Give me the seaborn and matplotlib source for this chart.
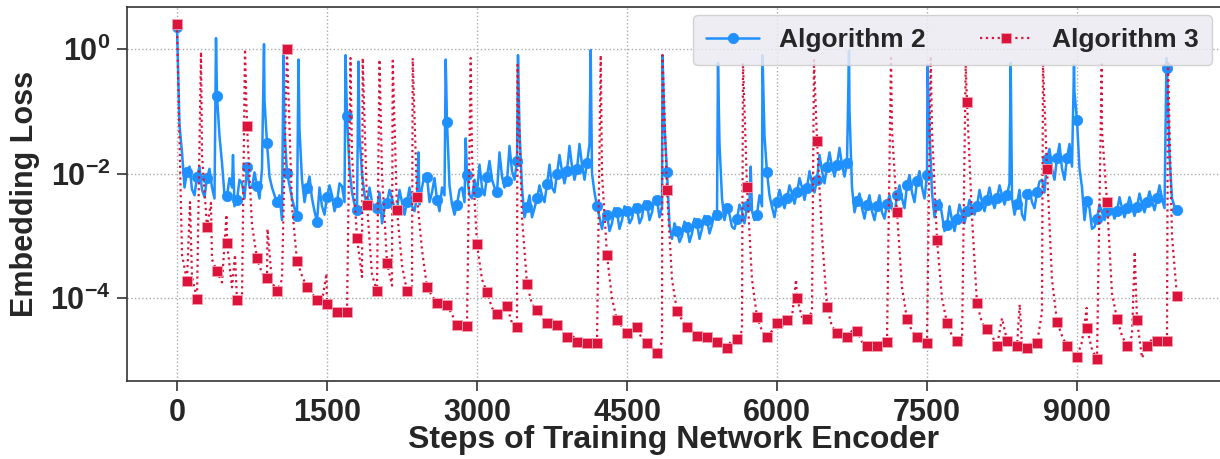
import numpy as np
import pandas as pd
import matplotlib
matplotlib.use("Agg")
import matplotlib.pyplot as plt
from matplotlib.ticker import NullLocator
import seaborn as sns

# training steps with a reading every 50 steps, plus the in-between readings
steps = np.arange(0, 10001, 50)
mid_steps = np.arange(25, 10000, 50)

# Algorithm 2 loss, steps 0..10000 every 50
alg2_loss = [
    2.3, 0.022, 0.0107, 0.0056, 0.009, 0.0055, 0.0085, 0.006, 0.18, 0.015,
    0.0044, 0.006, 0.0038, 0.007, 0.0126, 0.006, 0.0063, 0.012, 0.031, 0.006,
    0.0035, 0.0018, 0.0102, 0.004, 0.0021, 0.008, 0.0059, 0.004, 0.0017, 0.003,
    0.0043, 0.0045, 0.0035, 0.0063, 0.083, 0.005, 0.0026, 0.01, 0.0033, 0.0035,
    0.0028, 0.0016, 0.0034, 0.004, 0.0026, 0.0035, 0.0035, 0.003, 0.0043, 0.006,
    0.009, 0.005, 0.0038, 0.006, 0.068, 0.0032, 0.0032, 0.006, 0.0095, 0.004,
    0.005, 0.006, 0.009, 0.008, 0.005, 0.009, 0.0075, 0.011, 0.016, 0.006,
    0.0029, 0.002, 0.004, 0.0045, 0.0068, 0.006, 0.01, 0.011, 0.011, 0.013,
    0.012, 0.014, 0.015, 0.01, 0.003, 0.0013, 0.0022, 0.0016, 0.0024, 0.0018,
    0.0025, 0.0019, 0.0028, 0.002, 0.0032, 0.0024, 0.0038, 0.003, 0.0107, 0.0009,
    0.0012, 0.001, 0.0014, 0.0011, 0.0016, 0.0013, 0.0018, 0.0015, 0.0022, 0.004,
    0.0028, 0.0014, 0.0019, 0.0025, 0.003, 0.0025, 0.0022, 0.003, 0.0105, 0.0029,
    0.0035, 0.0038, 0.004, 0.0048, 0.005, 0.006, 0.006, 0.007, 0.008, 0.011,
    0.013, 0.013, 0.014, 0.014, 0.015, 0.006, 0.0036, 0.0028, 0.0032, 0.0025,
    0.003, 0.0024, 0.0033, 0.0028, 0.0045, 0.004, 0.0065, 0.005, 0.0075, 0.006,
    0.0095, 0.005, 0.0032, 0.0022, 0.0015, 0.0018, 0.0019, 0.0022, 0.0025, 0.0028,
    0.003, 0.0035, 0.0038, 0.0038, 0.004, 0.0045, 0.0045, 0.004, 0.0033, 0.0022,
    0.0047, 0.0035, 0.005, 0.008, 0.017, 0.012, 0.018, 0.012, 0.018, 0.013,
    0.072, 0.006, 0.0037, 0.0013, 0.0019, 0.0024, 0.0025, 0.0026, 0.0025, 0.0028,
    0.0028, 0.003, 0.0029, 0.0033, 0.0035, 0.0036, 0.004, 0.004, 0.5, 0.004,
    0.0026,
]
# Algorithm 2 loss at steps 25, 75, ..., 9975 (other edge of the noisy band)
alg2_mid_loss = [
    0.06, 0.006, 0.013, 0.0045, 0.013, 0.0042, 0.012, 0.004, 0.04, 0.0045,
    0.0085, 0.003, 0.008, 0.004, 0.006, 0.0105, 0.004, 0.15, 0.009, 0.0045,
    0.0045, 0.05, 0.0065, 0.0028, 0.05, 0.0035, 0.009, 0.0025, 0.006, 0.0022,
    0.0065, 0.0025, 0.007, 0.0035, 0.012, 0.0032, 0.04, 0.0045, 0.006, 0.0025,
    0.005, 0.0028, 0.0055, 0.0028, 0.0055, 0.0022, 0.006, 0.0025, 0.0032, 0.0095,
    0.0035, 0.0085, 0.0025, 0.0045, 0.0065, 0.0022, 0.0055, 0.0035, 0.0045, 0.008,
    0.014, 0.0045, 0.016, 0.006, 0.022, 0.006, 0.028, 0.008, 0.05, 0.002,
    0.0045, 0.0028, 0.0065, 0.0035, 0.014, 0.005, 0.02, 0.007, 0.028, 0.008,
    0.03, 0.008, 0.03, 0.005, 0.002, 0.0024, 0.0012, 0.0028, 0.0013, 0.003,
    0.0016, 0.0032, 0.0016, 0.0036, 0.0018, 0.0042, 0.002, 0.06, 0.0015, 0.0016,
    0.0008, 0.0017, 0.0008, 0.0019, 0.0009, 0.0021, 0.0011, 0.0025, 0.03, 0.0018,
    0.0022, 0.0013, 0.0032, 0.0016, 0.0038, 0.0018, 0.0045, 0.04, 0.0045, 0.002,
    0.0055, 0.0028, 0.0065, 0.0033, 0.0085, 0.0038, 0.011, 0.005, 0.02, 0.007,
    0.022, 0.009, 0.026, 0.009, 0.1, 0.0024, 0.0048, 0.0019, 0.0045, 0.0018,
    0.0045, 0.0019, 0.0045, 0.0022, 0.0065, 0.0028, 0.0095, 0.0035, 0.011, 0.004,
    0.05, 0.002, 0.0038, 0.0012, 0.003, 0.0012, 0.0032, 0.0016, 0.0038, 0.0022,
    0.0055, 0.0025, 0.006, 0.0028, 0.0065, 0.0032, 0.007, 0.0022, 0.0055, 0.0018,
    0.0055, 0.0028, 0.0075, 0.005, 0.025, 0.008, 0.03, 0.008, 0.03, 0.2,
    0.012, 0.0018, 0.0028, 0.0014, 0.0032, 0.0018, 0.0038, 0.0019, 0.0042, 0.002,
    0.0042, 0.0021, 0.0048, 0.0024, 0.0052, 0.0026, 0.0065, 0.0028, 0.02, 0.003,
]
# short spikes between the readings
alg2_spike_steps = [390, 560, 870, 1065, 1215, 1685, 1815, 2415, 2687, 2887, 3410,
                    4137, 4855, 5410, 5737, 5855, 6720, 7505, 8337, 8970, 9895]
alg2_spike_loss = [1.5, 0.02, 1.2, 1.0, 0.68, 0.8, 0.63, 0.022, 0.68, 0.037, 0.8,
                   0.97, 0.8, 0.6, 0.013, 0.8, 0.94, 0.56, 0.6, 0.56, 0.72]

# Algorithm 3 loss, steps 0..10000 every 50
alg3_loss = [
    2.5, 5e-4, 1.9e-4, 2.2e-4, 9.8e-5, 0.02, 1.4e-3, 4.2e-4, 2.7e-4, 1.8e-4,
    7.8e-4, 1.5e-4, 9.3e-5, 1e-4, 0.059, 1.5e-3, 4.4e-4, 2.5e-4, 2.1e-4, 1.8e-4,
    1.3e-4, 2e-4, 1.0, 3e-3, 4e-4, 2.3e-4, 1.5e-4, 1.2e-4, 9.3e-5, 9e-5,
    8e-5, 7e-5, 6e-5, 6e-5, 6e-5, 0.02, 9.3e-4, 2.2e-4, 3.2e-3, 2.4e-4,
    1.3e-4, 0.01, 3.7e-4, 1.6e-4, 2.6e-3, 3.4e-4, 1.3e-4, 1.3e-4, 4.2e-3, 6e-4,
    1.5e-4, 1.1e-4, 8.3e-5, 8.5e-5, 7.8e-5, 5.5e-5, 3.7e-5, 4e-5, 3.6e-5, 0.02,
    7.4e-4, 2e-4, 1.26e-4, 7e-5, 5.6e-5, 6e-5, 7.4e-5, 4e-5, 3.5e-5, 2e-3,
    1.7e-4, 8e-5, 6.5e-5, 5e-5, 4e-5, 4.5e-5, 3.7e-5, 3e-5, 2.4e-5, 2.6e-5,
    2e-5, 2.2e-5, 1.9e-5, 1.9e-5, 1.9e-5, 0.01, 4.9e-4, 1e-4, 4.4e-5, 3.5e-5,
    2.8e-5, 3e-5, 3.4e-5, 2.2e-5, 1.9e-5, 1.6e-5, 1.3e-5, 2e-5, 5.5e-3, 2e-4,
    6.3e-5, 4.5e-5, 3.5e-5, 3e-5, 2.5e-5, 2.2e-5, 2.4e-5, 2e-5, 2e-5, 1.8e-5,
    1.6e-5, 2.2e-5, 2.2e-5, 3e-5, 6.2e-3, 2e-4, 5e-5, 3e-5, 2.4e-5, 3e-5,
    4e-5, 3.5e-5, 4.5e-5, 5e-5, 1e-4, 5e-5, 4.7e-5, 6e-5, 0.034, 1e-3,
    7.2e-5, 3.5e-5, 2.8e-5, 2.6e-5, 2.4e-5, 3e-5, 3e-5, 2e-5, 1.7e-5, 1.7e-5,
    1.7e-5, 2e-5, 2e-5, 0.05, 2.4e-3, 1.5e-4, 4.6e-5, 3e-5, 2.4e-5, 2e-5,
    1.9e-5, 0.05, 8.7e-4, 1e-4, 4e-5, 2.5e-5, 2.1e-5, 1.9e-5, 0.14, 2e-3,
    8.3e-5, 4e-5, 3.2e-5, 2.5e-5, 1.7e-5, 4.8e-5, 2.1e-5, 2e-5, 1.7e-5, 1.8e-5,
    1.6e-5, 2e-5, 1.9e-5, 6e-5, 0.0118, 2e-4, 4.2e-5, 2.5e-5, 1.7e-5, 1.4e-5,
    1.15e-5, 2e-5, 3.3e-5, 1.5e-5, 1.07e-5, 0.05, 3.5e-3, 1.2e-4, 4.7e-5, 2.5e-5,
    1.7e-5, 2.5e-5, 4.5e-5, 1.1e-5, 1.7e-5, 2.2e-5, 2.1e-5, 2e-5, 2.1e-5, 1e-3,
    1.07e-4,
]
alg3_spike_steps = [130, 240, 340, 495, 580, 680, 905, 1495, 1735, 1857, 2025, 2157,
                    2357, 2937, 3405, 4237, 4855, 5660, 6190, 6370, 7140, 7537,
                    7887, 8427, 8660, 9097, 9247, 9577, 9910]
alg3_spike_loss = [0.0035, 0.9, 0.0034, 0.0022, 5e-4, 1.0, 0.0013, 2.5e-4, 0.72, 0.72,
                   0.68, 0.65, 0.72, 0.72, 0.56, 0.8, 0.8, 0.6, 2e-4, 0.67, 0.79,
                   0.77, 0.55, 8e-5, 0.57, 7e-5, 0.57, 5.6e-4, 0.6]

xticks = [0, 1500, 3000, 4500, 6000, 7500, 9000]
yticks = [1e-4, 1e-2, 1e0]


def build(parts):
    df = pd.concat([pd.DataFrame({"step": s, "loss": v}) for s, v in parts])
    return df.sort_values("step").reset_index(drop=True)


df2 = build([(steps, alg2_loss), (mid_steps, alg2_mid_loss),
             (alg2_spike_steps, alg2_spike_loss)])
df3 = build([(steps, alg3_loss), (alg3_spike_steps, alg3_spike_loss)])

sns.set_theme(style="white")
plt.rcParams["font.family"] = ["Liberation Sans", "DejaVu Sans"]
plt.rcParams["font.weight"] = "bold"
plt.rcParams["axes.labelweight"] = "bold"

fig = plt.figure(figsize=(12.2, 4.59), dpi=100)
ax = fig.add_axes([127 / 1220, 1 - 381 / 459, 1 - 127 / 1220, (381 - 6.7) / 459])

sns.lineplot(data=df2, x="step", y="loss", ax=ax, estimator=None, sort=False,
             color="#1E90FF", lw=1.8, marker="o", markersize=7.5,
             mec="#1E90FF", mew=0.5,
             markevery=list(df2["step"] % 100 == 0), label="Algorithm 2")
sns.lineplot(data=df3, x="step", y="loss", ax=ax, estimator=None, sort=False,
             color="#DC143C", lw=1.6, ls=":", marker="s", markersize=7.5,
             mec="#F4A0B0", mew=0.6,
             markevery=list(df3["step"] % 100 == 0), label="Algorithm 3")

ax.set_yscale("log")
ax.set_ylim(4.7e-6, 4.8)
ax.set_xlim(-500, 10430)
ax.set_yticks(yticks)
ax.yaxis.set_minor_locator(NullLocator())
ax.set_xticks(xticks)
ax.set_xticklabels([str(t) for t in xticks])

ax.grid(True, ls=":", color="#aaaaaa", lw=1)
for side in ["left", "bottom", "top"]:
    ax.spines[side].set_color("#333333")
    ax.spines[side].set_linewidth(1.2)
ax.spines["right"].set_visible(False)
ax.tick_params(axis="both", bottom=True, left=True, length=7, width=1.2,
               pad=5, color="#333333", labelsize=22)

ax.set_xlabel("Steps of Training Network Encoder", fontsize=23)
ax.set_ylabel("Embedding Loss", fontsize=22)
ax.xaxis.set_label_coords(0.5, -0.118)
ax.yaxis.set_label_coords(-0.08, 0.5)

ax.legend(loc="upper right", ncol=2, fontsize=19, frameon=True, fancybox=True,
          facecolor="#EAEAF2", edgecolor="#CCCCCC", framealpha=0.85,
          borderpad=0.5, columnspacing=2.05, handlelength=2.0,
          handletextpad=0.75, borderaxespad=0.3)

fig.savefig("out.png", dpi=100)
